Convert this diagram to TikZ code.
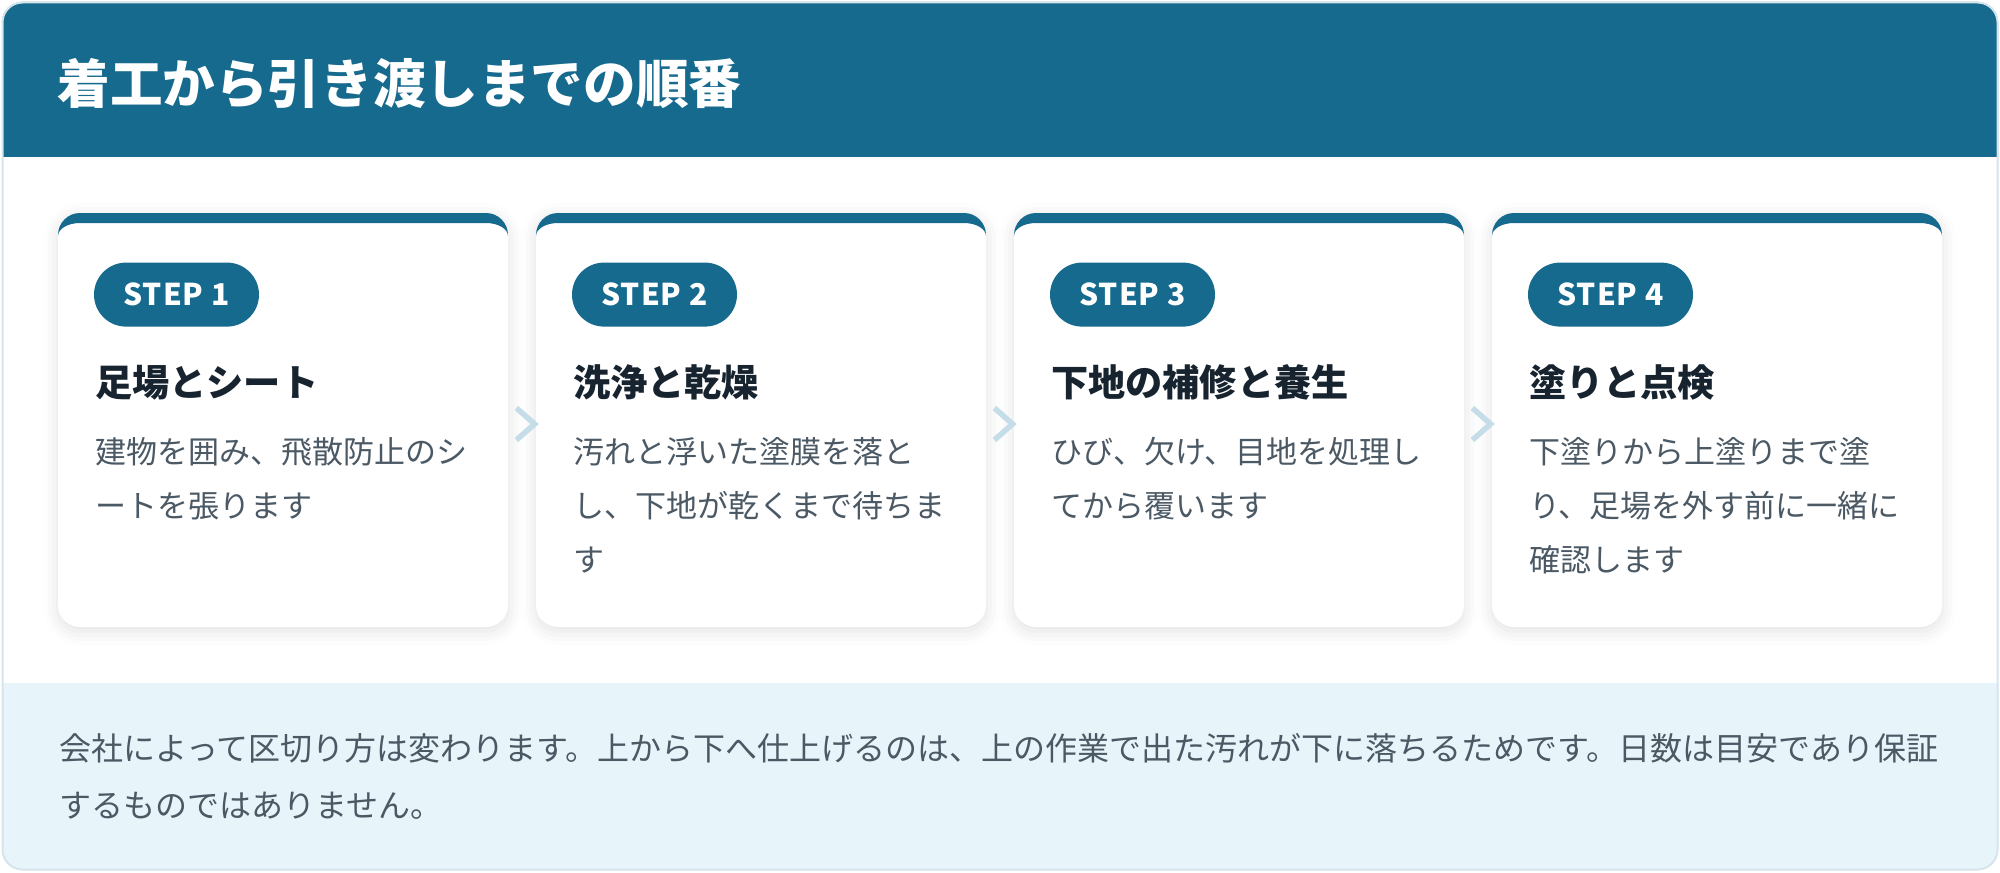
\documentclass[tikz,border=0pt]{standalone}
\usepackage{fontspec}
\setmainfont{Noto Sans CJK JP}
\usepackage{tikz}
\usetikzlibrary{positioning,calc,shadows.blur}

\definecolor{stepblue}{RGB}{22,106,142}
\definecolor{notebg}{RGB}{231,244,250}
\definecolor{framegray}{RGB}{214,228,236}
\definecolor{chevblue}{RGB}{197,221,232}
\definecolor{headdark}{RGB}{23,35,46}
\definecolor{textgray}{RGB}{75,89,101}

\tikzset{
card/.style={fill=white, rounded corners=11pt, minimum width=225pt, minimum height=207pt, inner sep=0pt,
  blur shadow={shadow xshift=0pt, shadow yshift=-2pt, shadow blur radius=7pt, shadow opacity=12},
  path picture={
    \fill[stepblue, sharp corners] (path picture bounding box.north west) -- (path picture bounding box.north east)
      -- ++(0pt,-11.5pt) arc[start angle=0, end angle=90, x radius=11pt, y radius=6.5pt]
      -- ($(path picture bounding box.north west)+(11pt,-5pt)$)
      arc[start angle=90, end angle=180, x radius=11pt, y radius=6.5pt] -- cycle;
  }},
pill/.style={fill=stepblue, text=white, rounded corners=16pt, minimum width=82.5pt, minimum height=32pt,
  inner sep=0pt, font=\fontsize{15}{18}\selectfont\bfseries\addfontfeature{LetterSpace=3}},
steptitle/.style={anchor=base west, inner sep=0pt, text=headdark, font=\fontsize{18.6}{22}\selectfont\bfseries},
stepdesc/.style={anchor=north west, inner sep=0pt, text=textgray, align=left, font=\fontsize{15.5}{27}\selectfont},
notetext/.style={anchor=north west, inner sep=0pt, text=textgray, align=left, font=\fontsize{16}{28.5}\selectfont},
chev/.style={chevblue, line width=2.75pt, line join=miter}
}

\begin{document}
\begin{tikzpicture}[x=0.5pt,y=-0.5pt]
\useasboundingbox (0,0) rectangle (2000,872);
% ==========================================
\begin{scope}
\clip[rounded corners=10pt] (2,2) rectangle (1998,870);
\fill[stepblue] (0,0) rectangle (2000,157);
\fill[notebg] (0,683) rectangle (2000,872);
\end{scope}
\draw[framegray, line width=1pt, rounded corners=10pt] (2.5,2.5) rectangle (1997.5,869.5);
%
\node[anchor=base west, inner sep=0pt, text=white, font=\fontsize{26.3}{30}\selectfont\bfseries] (title) at (57,104) {着工から引き渡しまでの順番};
%
\node[card] (s1) at (283,420) {};
\node[card] (s2) at (761,420) {};
\node[card] (s3) at (1239,420) {};
\node[card] (s4) at (1717,420) {};
%
\node[pill, anchor=west] (p1) at ($(s1.north west)+(36,82)$) {STEP 1};
\node[steptitle] (t1) at ($(s1.north west)+(37,184)$) {足場とシート};
\node[stepdesc] (d1) at ($(s1.north west)+(37,213)$) {\strut 建物を囲み、飛散防止のシ\\ートを張ります};
%
\node[pill, anchor=west] (p2) at ($(s2.north west)+(36,82)$) {STEP 2};
\node[steptitle] (t2) at ($(s2.north west)+(37,184)$) {洗浄と乾燥};
\node[stepdesc] (d2) at ($(s2.north west)+(37,213)$) {\strut 汚れと浮いた塗膜を落と\\し、下地が乾くまで待ちま\\す};
%
\node[pill, anchor=west] (p3) at ($(s3.north west)+(36,82)$) {STEP 3};
\node[steptitle] (t3) at ($(s3.north west)+(37,184)$) {下地の補修と養生};
\node[stepdesc] (d3) at ($(s3.north west)+(37,213)$) {\strut ひび、欠け、目地を処理し\\てから覆います};
%
\node[pill, anchor=west] (p4) at ($(s4.north west)+(36,82)$) {STEP 4};
\node[steptitle] (t4) at ($(s4.north west)+(37,184)$) {塗りと点検};
\node[stepdesc] (d4) at ($(s4.north west)+(37,213)$) {\strut 下塗りから上塗りまで塗\\り、足場を外す前に一緒に\\確認します};
%
\draw[chev] ($(s1.east)+(8,-12)$) -- ($(s2.west)+(-1,4)$) -- ($(s1.east)+(8,20)$);%Arrow.
\draw[chev] ($(s2.east)+(8,-12)$) -- ($(s3.west)+(-1,4)$) -- ($(s2.east)+(8,20)$);%Arrow.
\draw[chev] ($(s3.east)+(8,-12)$) -- ($(s4.west)+(-1,4)$) -- ($(s3.east)+(8,20)$);%Arrow.
%
\node[notetext] (note) at (59,720) {\strut 会社によって区切り方は変わります。上から下へ仕上げるのは、上の作業で出た汚れが下に落ちるためです。日数は目安であり保証\\するものではありません。};
% =============================================
\end{tikzpicture}
\end{document}
